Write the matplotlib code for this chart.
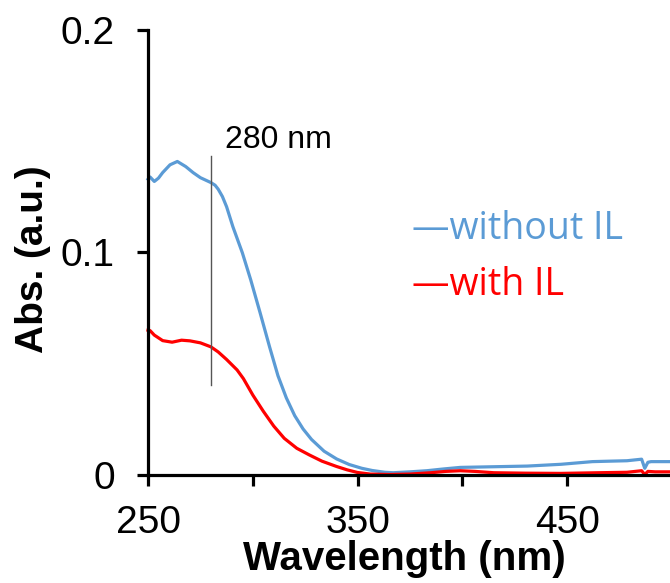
import matplotlib
matplotlib.use('Agg')
import matplotlib.pyplot as plt
import numpy as np

# wavelength (nm) and absorbance
wl_without = [250, 251, 253, 255, 257, 260.5, 264, 268, 271.5, 275, 280, 282, 283.5, 285.5,
              287.5, 290.5, 295, 299, 303.5, 308, 312, 316, 320, 324, 328, 334, 340, 346,
              352, 357, 363, 367, 375, 383, 391, 399, 415, 431, 447, 462, 470, 478.5, 485.5,
              487, 488.5, 490, 495, 500]
abs_without = [0.133, 0.134, 0.132, 0.1335, 0.136, 0.1395, 0.141, 0.1387, 0.136, 0.1337,
               0.1315, 0.1303, 0.1285, 0.1252, 0.1206, 0.1116, 0.0999, 0.0877, 0.0728,
               0.0575, 0.0445, 0.0345, 0.0265, 0.0205, 0.0158, 0.0105, 0.007, 0.0045,
               0.0028, 0.0018, 0.001, 0.0008, 0.0012, 0.0017, 0.0025, 0.0032, 0.0035,
               0.0038, 0.0046, 0.0058, 0.006, 0.0062, 0.0069, 0.0028, 0.0055, 0.0058,
               0.0058, 0.0058]

wl_with = [250, 251, 253, 257, 261.5, 266, 270, 275, 280, 283.5, 287.5, 292.5, 295.5, 300,
           305, 310, 315, 321, 327, 333, 340, 345, 350, 356, 365, 375, 385, 392, 399, 406,
           415, 430, 447, 465, 478.5, 485.5, 487, 488.5, 492, 500]
abs_with = [0.065, 0.0648, 0.0628, 0.0603, 0.0596, 0.0605, 0.0602, 0.0593, 0.0575, 0.0552,
            0.0518, 0.0471, 0.0432, 0.0358, 0.0285, 0.0218, 0.0163, 0.0118, 0.0088, 0.006,
            0.0036, 0.0021, 0.0009, 0.0002, 0.0, 0.0002, 0.0008, 0.0014, 0.0017, 0.0014,
            0.0008, 0.0006, 0.0005, 0.0008, 0.001, 0.0017, 0.0, 0.0014, 0.0012, 0.0012]

x_ticks = [250, 300, 350, 400, 450, 500]
x_labels = ['250', '', '350', '', '450', '']
y_ticks = [0, 0.1, 0.2]
y_labels = ['0', '0.1', '0.2']

blue = '#5B9BD5'
red = '#FF0000'

plt.rcParams['font.family'] = ['Liberation Sans', 'DejaVu Sans']

fig = plt.figure(figsize=(6.70, 5.83), dpi=100)
ax = fig.add_axes([0.2209, 0.1861, 0.7821, 0.7616])

ax.plot(wl_without, abs_without, color=blue, lw=2.3, clip_on=False,
        solid_joinstyle='round')
ax.plot(wl_with, abs_with, color=red, lw=2.3, clip_on=False,
        solid_joinstyle='round')

# marker line at 280 nm
ax.plot([280, 280], [0.0405, 0.1435], color='#555555', lw=1.0)
ax.text(286.5, 0.147, '280 nm', fontsize=23, ha='left', va='baseline')

ax.set_xlim(250, 500)
ax.set_ylim(0, 0.2)
ax.set_xticks(x_ticks)
ax.set_xticklabels(x_labels)
ax.set_yticks(y_ticks)
ax.set_yticklabels(y_labels)

for s in ['top', 'right']:
    ax.spines[s].set_visible(False)
for s in ['left', 'bottom']:
    ax.spines[s].set_linewidth(2.3)
ax.tick_params(axis='both', direction='out', length=8, width=2.3, labelsize=28)
ax.tick_params(axis='y', pad=16)
ax.tick_params(axis='x', pad=14)

ax.set_xlabel('Wavelength (nm)', fontsize=29, fontweight='bold')
ax.xaxis.label.set_va('baseline')
ax.xaxis.set_label_coords(0.49, -0.215)
ax.set_ylabel('Abs. (a.u.)', fontsize=28, fontweight='bold')
ax.yaxis.label.set_va('center')
ax.yaxis.set_label_coords(-0.219, 0.484)

# legend drawn as coloured text
fig.text(412 / 670, 1 - 239 / 583, '\u2014without IL', color=blue, fontsize=27,
         family=['Open Sans', 'DejaVu Sans'], va='baseline', ha='left')
fig.text(412 / 670, 1 - 295 / 583, '\u2014with IL', color=red, fontsize=27,
         family=['Open Sans', 'DejaVu Sans'], va='baseline', ha='left')

fig.savefig('out.png', dpi=100)
